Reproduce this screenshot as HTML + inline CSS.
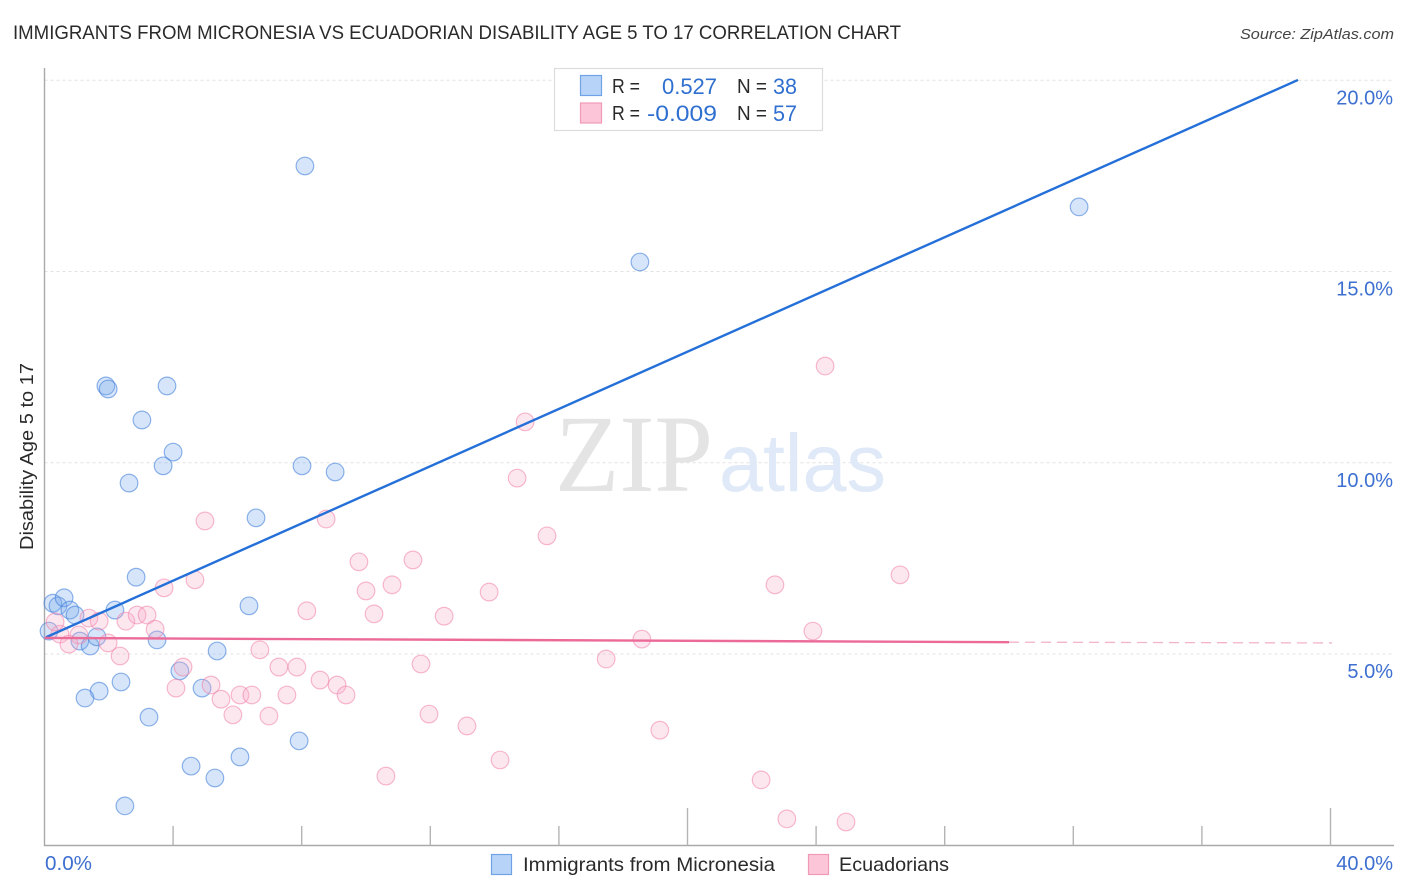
<!DOCTYPE html>
<html lang="en">
<head>
<meta charset="utf-8">
<title>Immigrants from Micronesia vs Ecuadorian Disability Age 5 to 17 Correlation Chart</title>
<style>
html,body{margin:0;padding:0;background:#fff;width:1406px;height:892px;overflow:hidden}
svg{display:block;font-family:"Liberation Sans",sans-serif}
</style>
</head>
<body>
<svg id="chart" xmlns="http://www.w3.org/2000/svg" width="1406" height="892" viewBox="0 0 1406 892">
  <rect x="0" y="0" width="1406" height="892" fill="#fff"/>
  <text x="13" y="39" font-size="19.5" fill="#2a2a2a" textLength="888" lengthAdjust="spacingAndGlyphs">IMMIGRANTS FROM MICRONESIA VS ECUADORIAN DISABILITY AGE 5 TO 17 CORRELATION CHART</text>
  <text x="1394" y="39" font-size="15" font-style="italic" fill="#444" text-anchor="end" textLength="154" lengthAdjust="spacingAndGlyphs">Source: ZipAtlas.com</text>
  <g id="grid"></g>
  <g>
    <text x="555" y="491" font-family="'Liberation Serif',serif" font-size="110" fill="#e4e4e4" textLength="158" lengthAdjust="spacingAndGlyphs">ZIP</text>
    <text x="719" y="491" font-size="82" fill="#dfe9f8" textLength="167" lengthAdjust="spacingAndGlyphs">atlas</text>
  </g>
  <g id="axes"></g>
  <g id="points-blue"></g>
  <g id="points-pink"></g>
  <g id="trends"></g>
  <g id="tick-labels"></g>
  <text transform="translate(33,550) rotate(-90)" font-size="18.5" fill="#2a2a2a" textLength="187" lengthAdjust="spacingAndGlyphs">Disability Age 5 to 17</text>

  <g>
    <rect x="554.5" y="68.5" width="268" height="62" fill="#fff" stroke="#dcdcdc" stroke-width="1.2"/>
    <rect x="580.5" y="75.5" width="21" height="20" fill="#b8d3f8" stroke="#6fa3e6" stroke-width="1.2"/>
    <rect x="580.5" y="103" width="21" height="20" fill="#fcc6d8" stroke="#f09ab8" stroke-width="1.2"/>
    <g font-size="20" fill="#2a2a2a">
      <text x="612" y="93" textLength="28" lengthAdjust="spacingAndGlyphs">R =</text>
      <text x="737" y="93" textLength="30" lengthAdjust="spacingAndGlyphs">N =</text>
      <text x="612" y="120" textLength="28" lengthAdjust="spacingAndGlyphs">R =</text>
      <text x="737" y="120" textLength="30" lengthAdjust="spacingAndGlyphs">N =</text>
    </g>
    <g font-size="22" fill="#2f6fd0">
      <text x="662" y="94" textLength="55" lengthAdjust="spacingAndGlyphs">0.527</text>
      <text x="773" y="94" textLength="24" lengthAdjust="spacingAndGlyphs">38</text>
      <text x="647" y="121" textLength="70" lengthAdjust="spacingAndGlyphs">-0.009</text>
      <text x="773" y="121" textLength="24" lengthAdjust="spacingAndGlyphs">57</text>
    </g>
  </g>

  <g>
    <rect x="491.5" y="854.5" width="20" height="20" fill="#b8d3f8" stroke="#6fa3e6" stroke-width="1.2"/>
    <text x="523" y="871" font-size="19.5" fill="#2a2a2a" textLength="252" lengthAdjust="spacingAndGlyphs">Immigrants from Micronesia</text>
    <rect x="808.5" y="854.5" width="20" height="20" fill="#fcc6d8" stroke="#f09ab8" stroke-width="1.2"/>
    <text x="839" y="871" font-size="19.5" fill="#2a2a2a" textLength="110" lengthAdjust="spacingAndGlyphs">Ecuadorians</text>
  </g>
</svg>
<script>
const blueX = [8.10,32.18,18.52,1.91,1.98,3.81,3.03,4.00,3.69,8.01,9.04,2.63,6.58,2.85,6.36,2.19,0.26,0.42,0.61,0.79,0.95,0.14,1.10,1.42,1.63,3.50,5.37,4.21,4.90,2.38,1.70,1.26,3.25,7.92,6.08,4.56,5.30,2.50];
const blueY = [17.76,16.69,15.25,12.01,11.93,12.01,11.12,10.28,9.92,9.92,9.76,9.47,8.56,7.01,6.26,6.15,6.33,6.26,6.47,6.15,6.02,5.60,5.34,5.21,5.45,5.37,5.08,4.56,4.11,4.27,4.03,3.85,3.35,2.73,2.31,2.07,1.76,1.03];
const pinkX = [24.28,14.95,14.70,4.99,8.76,15.63,9.78,11.46,26.61,22.72,4.68,3.72,10.00,10.81,13.83,8.16,10.25,12.43,23.90,18.58,17.47,11.71,6.70,7.29,7.85,8.57,9.10,9.38,7.54,6.08,6.45,5.49,5.18,4.31,4.09,5.86,6.98,11.96,13.14,19.14,14.17,10.62,22.29,23.09,24.93,1.38,1.70,2.53,2.88,3.19,3.44,1.98,2.35,1.07,0.48,0.76,0.33];
const pinkY = [12.53,11.07,9.60,8.48,8.53,8.09,7.41,7.46,7.07,6.81,6.94,6.73,6.65,6.81,6.62,6.13,6.05,5.99,5.60,5.39,4.87,4.74,5.11,4.66,4.66,4.32,4.19,3.93,3.93,3.93,3.93,3.82,4.19,4.66,4.11,3.41,3.38,3.43,3.12,3.01,2.23,1.81,1.71,0.69,0.61,5.94,5.86,5.86,6.02,6.02,5.65,5.29,4.95,5.50,5.52,5.26,5.84];
const blueTrendX = [0.05,38.99];
const blueTrendY = [5.44,20.01];
const pinkTrendX = [0,30.0];
const pinkTrendY = [5.42,5.31];
const pinkDashX = [30.0,40.05];
const pinkDashY = [5.31,5.29];
const yTicks = [5,10,15,20];
const yTickLabels = ["5.0%","10.0%","15.0%","20.0%"];
const xTicks = [0,4,8,12,16,20,24,28,32,36,40];
const xMajorTicks = [20,40];
const xEndLabels = ["0.0%","40.0%"];

const NS = "http://www.w3.org/2000/svg";
function xScale(v){ return 44.5 + v * 32.15; }
function yScale(v){ return 845.3 - v * 38.25; }
function make(tag, attrs, parent){
  const el = document.createElementNS(NS, tag);
  for (const k in attrs) el.setAttribute(k, attrs[k]);
  parent.appendChild(el);
  return el;
}
const grid = document.getElementById("grid");
const axes = document.getElementById("axes");
const labels = document.getElementById("tick-labels");
const trends = document.getElementById("trends");

yTicks.forEach(function(t, i){
  const y = yScale(t);
  const line = make("line", {x1:44.5, x2:1393, y1:y, y2:y, stroke:"#e2e2e2", "stroke-width":1, "stroke-dasharray":"3 3"}, grid);
  
  
  const label = make("text", {x:1393, y:y + 24, "text-anchor":"end", "font-size":20, fill:"#3d6fd0"}, labels);
  label.textContent = yTickLabels[i];
  
  
});

const yAxis = make("line", {x1:44.5, x2:44.5, y1:68, y2:846, stroke:"#a9a9a9", "stroke-width":1.4}, axes);


const xAxis = make("line", {x1:44, x2:1394, y1:845.5, y2:845.5, stroke:"#a9a9a9", "stroke-width":1.4}, axes);


xTicks.forEach(function(t){
  if (t === 0) return;
  const major = xMajorTicks.indexOf(t) >= 0;
  const x = xScale(t);
  const tick = make("line", {x1:x, x2:x, y1:major ? 808 : 826, y2:845.5, stroke:"#b4b4b4", "stroke-width":1.4}, axes);
  
  
});

const xStart = make("text", {x:45, y:870, "font-size":20, fill:"#3d6fd0", textLength:47, lengthAdjust:"spacingAndGlyphs"}, labels);
xStart.textContent = xEndLabels[0];


const xEnd = make("text", {x:1393, y:870, "text-anchor":"end", "font-size":20, fill:"#3d6fd0"}, labels);
xEnd.textContent = xEndLabels[1];



const blueGroup = document.getElementById("points-blue");
blueX.forEach(function(v, i){
  const c = make("circle", {cx:xScale(v), cy:yScale(blueY[i]), r:8.8, fill:"rgba(120,170,235,0.3)", stroke:"rgba(70,130,220,0.6)", "stroke-width":1.2}, blueGroup);
  
  
});
const pinkGroup = document.getElementById("points-pink");
pinkX.forEach(function(v, i){
  const c = make("circle", {cx:xScale(v), cy:yScale(pinkY[i]), r:8.8, fill:"rgba(248,170,198,0.28)", stroke:"rgba(240,130,170,0.55)", "stroke-width":1.2}, pinkGroup);
  
  
});

const blueTrend = make("line", {x1:xScale(blueTrendX[0]), y1:yScale(blueTrendY[0]), x2:xScale(blueTrendX[1]), y2:yScale(blueTrendY[1]), stroke:"#2470d8", "stroke-width":2.4}, trends);


const pinkTrend = make("line", {x1:xScale(pinkTrendX[0]), y1:yScale(pinkTrendY[0]), x2:xScale(pinkTrendX[1]), y2:yScale(pinkTrendY[1]), stroke:"#ec6a98", "stroke-width":2.4}, trends);


const pinkDash = make("line", {x1:xScale(pinkDashX[0]), y1:yScale(pinkDashY[0]), x2:xScale(pinkDashX[1]), y2:yScale(pinkDashY[1]), stroke:"#f4b3ca", "stroke-width":1.3, "stroke-dasharray":"10 6"}, trends);


</script>
</body>
</html>
